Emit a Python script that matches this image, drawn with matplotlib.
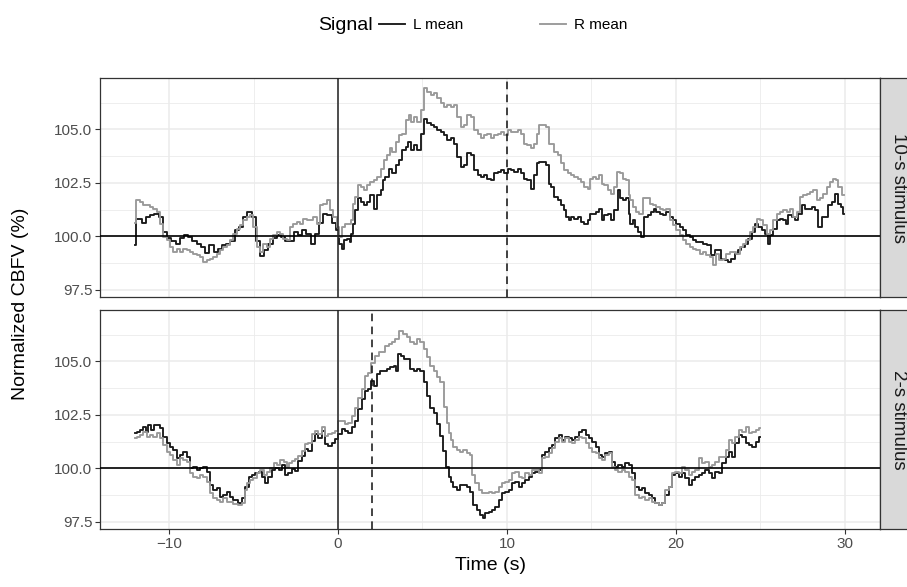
import matplotlib
matplotlib.use("Agg")
import matplotlib.pyplot as plt
from matplotlib.lines import Line2D

plt.rcParams['font.family'] = ['Liberation Sans', 'DejaVu Sans']

# ---------------- data: (time s, normalized CBFV %) ----------------
top_L = [(-12.0, 99.6), (-11.9, 100.8), (-11.75, 100.83), (-11.5, 100.6), (-11.25, 100.9), (-11.0, 101.0),
         (-10.75, 101.05), (-10.5, 100.9), (-10.25, 100.2), (-10.0, 99.9), (-9.75, 99.8), (-9.5, 99.65),
         (-9.25, 99.9), (-9.0, 100.05), (-8.75, 99.97), (-8.5, 99.8), (-8.25, 99.65), (-8.0, 99.5),
         (-7.75, 99.2), (-7.5, 99.6), (-7.25, 99.25), (-7.0, 99.4), (-6.75, 99.6), (-6.5, 99.65),
         (-6.25, 99.8), (-6.0, 100.3), (-5.75, 100.45), (-5.5, 100.9), (-5.25, 101.15), (-5.0, 100.9),
         (-4.75, 99.8), (-4.5, 99.1), (-4.25, 99.35), (-4.0, 99.65), (-3.75, 99.9), (-3.5, 100.05),
         (-3.25, 99.97), (-3.0, 99.8), (-2.75, 99.8), (-2.5, 100.2), (-2.25, 100.05), (-2.0, 100.3),
         (-1.75, 100.1), (-1.5, 99.65), (-1.25, 100.1), (-1.0, 100.6), (-0.75, 101.05), (-0.5, 101.0),
         (-0.25, 100.6), (0.0, 100.3), (0.14, 99.66), (0.28, 99.42), (0.44, 99.81), (0.63, 99.89),
         (0.73, 99.73), (0.83, 100.13), (0.93, 100.59), (1.13, 101.22), (1.23, 101.77), (1.43, 101.61),
         (1.62, 101.45), (1.82, 101.61), (2.02, 101.92), (2.22, 101.3), (2.42, 101.92), (2.61, 102.16),
         (2.71, 102.63), (2.91, 102.78), (3.11, 103.17), (3.31, 102.94), (3.5, 103.33), (3.7, 103.56),
         (3.9, 104.03), (4.1, 104.19), (4.2, 104.42), (4.4, 104.03), (4.6, 104.27), (4.8, 104.03),
         (4.99, 104.81), (5.15, 105.47), (5.39, 105.28), (5.58, 105.2), (5.78, 105.13), (5.98, 104.97),
         (6.18, 104.89), (6.38, 104.73), (6.57, 104.5), (6.77, 104.58), (6.97, 104.34), (7.17, 103.72),
         (7.37, 103.25), (7.56, 103.33), (7.76, 103.88), (7.96, 103.8), (8.16, 103.09), (8.36, 102.86),
         (8.55, 102.78), (8.75, 102.86), (8.95, 102.7), (9.15, 102.63), (9.35, 102.94), (9.54, 103.02),
         (9.74, 103.09), (9.94, 102.94), (10.14, 103.17), (10.33, 103.09), (10.53, 103.02), (10.73, 103.17),
         (10.93, 102.94), (11.12, 102.7), (11.32, 102.63), (11.52, 102.23), (11.72, 102.86), (11.85, 103.41),
         (12.01, 103.48), (12.21, 103.48), (12.41, 103.33), (12.55, 102.47), (12.71, 102.31), (12.9, 101.84),
         (13.1, 101.69), (13.3, 101.45), (13.45, 101.22), (13.6, 100.91), (13.7, 100.75), (13.89, 100.91),
         (14.09, 100.83), (14.29, 100.91), (14.49, 100.67), (14.69, 100.59), (14.88, 100.75), (14.98, 101.06),
         (15.18, 101.06), (15.38, 101.14), (15.58, 101.3), (15.68, 100.75), (15.87, 100.98), (16.07, 101.06),
         (16.27, 100.75), (16.47, 101.22), (16.67, 102.16), (16.77, 101.77), (16.96, 101.69), (17.16, 101.77),
         (17.26, 101.06), (17.36, 100.59), (17.56, 100.75), (17.66, 100.44), (17.85, 100.2), (18.05, 99.97),
         (18.25, 100.91), (18.45, 100.98), (18.65, 101.14), (18.75, 101.3), (18.94, 101.14), (19.14, 101.06),
         (19.34, 100.98), (19.54, 101.14), (19.74, 100.91), (19.93, 100.75), (20.13, 100.59), (20.33, 100.44),
         (20.53, 100.28), (20.73, 100.05), (20.92, 99.97), (21.12, 99.81), (21.32, 99.73), (21.52, 99.73),
         (21.72, 99.66), (22.01, 99.58), (22.21, 99.11), (22.41, 99.34), (22.61, 99.34), (22.81, 98.95),
         (23.0, 98.88), (23.2, 98.8), (23.4, 98.95), (23.6, 99.19), (23.8, 99.34), (23.99, 99.5),
         (24.19, 99.66), (24.39, 99.89), (24.59, 100.2), (24.79, 100.59), (24.99, 100.44), (25.18, 100.28),
         (25.38, 100.13), (25.5, 99.66), (25.68, 100.05), (25.88, 100.36), (26.07, 100.75), (26.27, 100.83),
         (26.47, 100.75), (26.57, 100.59), (26.77, 100.98), (26.96, 100.91), (27.16, 100.75), (27.36, 101.06),
         (27.56, 101.45), (27.76, 101.3), (27.96, 101.3), (28.15, 101.38), (28.35, 101.22), (28.55, 100.44),
         (28.75, 100.91), (28.94, 100.91), (29.14, 101.45), (29.34, 101.61), (29.54, 102.0), (29.74, 101.53),
         (29.84, 101.38), (29.97, 101.06)]

top_R = [(-12.0, 100.6), (-11.95, 101.69), (-11.84, 101.69), (-11.64, 101.61), (-11.44, 101.45), (-11.25, 101.45),
         (-11.05, 101.38), (-10.85, 101.3), (-10.65, 101.14), (-10.45, 100.59), (-10.26, 99.97), (-10.06, 99.81),
         (-9.86, 99.5), (-9.66, 99.27), (-9.47, 99.42), (-9.27, 99.27), (-9.07, 99.42), (-8.87, 99.34),
         (-8.68, 99.27), (-8.48, 99.19), (-8.28, 99.11), (-8.08, 99.03), (-7.89, 98.8), (-7.69, 98.88),
         (-7.49, 98.95), (-7.29, 99.03), (-7.09, 99.19), (-6.9, 99.34), (-6.7, 99.5), (-6.5, 99.58),
         (-6.3, 99.81), (-6.11, 100.13), (-5.91, 100.36), (-5.71, 100.52), (-5.51, 100.75), (-5.32, 100.91),
         (-5.12, 100.98), (-4.92, 100.44), (-4.72, 99.5), (-4.53, 99.27), (-4.33, 99.66), (-4.13, 99.5),
         (-3.93, 99.89), (-3.74, 100.05), (-3.54, 100.2), (-3.34, 100.13), (-3.14, 99.89), (-2.94, 99.81),
         (-2.75, 100.44), (-2.55, 100.59), (-2.35, 100.67), (-2.15, 100.59), (-1.96, 100.83), (-1.76, 100.75),
         (-1.56, 100.75), (-1.36, 100.91), (-1.17, 100.59), (-0.97, 101.45), (-0.77, 101.53), (-0.57, 101.69),
         (-0.38, 101.22), (-0.18, 100.91), (0.0, 100.44), (0.14, 99.97), (0.34, 100.44), (0.53, 100.59),
         (0.73, 100.59), (0.83, 100.75), (0.93, 101.53), (1.13, 101.84), (1.27, 102.39), (1.43, 102.31),
         (1.62, 102.16), (1.82, 102.39), (2.02, 102.55), (2.22, 102.63), (2.42, 102.78), (2.61, 103.17),
         (2.81, 103.56), (3.01, 103.8), (3.11, 104.11), (3.31, 103.95), (3.5, 104.42), (3.7, 104.73),
         (3.9, 104.81), (4.1, 105.44), (4.3, 105.67), (4.4, 105.36), (4.6, 105.59), (4.8, 105.36),
         (4.99, 105.91), (5.15, 106.92), (5.39, 106.77), (5.58, 106.61), (5.78, 106.69), (5.98, 106.45),
         (6.18, 106.22), (6.38, 106.06), (6.57, 106.14), (6.77, 106.06), (6.97, 106.14), (7.17, 105.59),
         (7.37, 105.13), (7.56, 105.2), (7.76, 105.67), (7.96, 105.59), (8.16, 104.97), (8.36, 104.81),
         (8.55, 104.58), (8.75, 104.73), (8.95, 104.81), (9.15, 104.58), (9.35, 104.73), (9.54, 104.81),
         (9.74, 104.89), (9.94, 104.73), (10.14, 104.97), (10.33, 104.89), (10.53, 104.89), (10.73, 104.97),
         (10.93, 104.81), (11.12, 104.34), (11.32, 104.27), (11.52, 104.11), (11.72, 104.34), (11.85, 104.81),
         (12.01, 105.2), (12.21, 105.2), (12.41, 105.13), (12.55, 104.34), (12.71, 104.34), (12.9, 103.95),
         (13.1, 103.8), (13.3, 103.41), (13.5, 103.09), (13.7, 102.94), (13.89, 102.86), (14.09, 102.78),
         (14.29, 102.7), (14.49, 102.55), (14.69, 102.31), (14.88, 102.23), (14.98, 102.7), (15.18, 102.78),
         (15.38, 102.7), (15.58, 102.86), (15.68, 102.47), (15.87, 102.39), (16.07, 102.16), (16.27, 102.0),
         (16.47, 102.31), (16.63, 103.02), (16.77, 102.94), (16.96, 102.7), (17.16, 102.63), (17.26, 101.92),
         (17.36, 101.69), (17.56, 101.38), (17.76, 101.14), (17.95, 101.06), (18.15, 101.77), (18.35, 101.77),
         (18.55, 101.53), (18.75, 101.45), (18.94, 101.38), (19.14, 101.3), (19.34, 101.22), (19.54, 101.3),
         (19.74, 100.75), (19.93, 100.52), (20.13, 100.28), (20.33, 100.05), (20.53, 99.81), (20.73, 99.66),
         (20.92, 99.5), (21.12, 99.42), (21.32, 99.34), (21.52, 99.19), (21.72, 99.27), (21.91, 99.11),
         (22.11, 99.03), (22.31, 98.64), (22.41, 99.19), (22.71, 98.88), (22.9, 98.95), (23.1, 99.19),
         (23.3, 99.27), (23.5, 99.27), (23.7, 99.19), (23.9, 99.5), (24.09, 99.66), (24.29, 99.81),
         (24.49, 100.2), (24.69, 100.44), (24.89, 100.83), (25.08, 100.75), (25.28, 100.52), (25.48, 100.13),
         (25.68, 100.28), (25.88, 100.75), (26.07, 101.06), (26.27, 101.14), (26.47, 101.22), (26.67, 101.14),
         (26.87, 101.3), (27.06, 100.91), (27.26, 101.14), (27.46, 101.84), (27.66, 101.92), (27.86, 102.0),
         (28.05, 102.08), (28.25, 102.16), (28.45, 101.69), (28.65, 101.77), (28.85, 102.0), (29.04, 102.31),
         (29.24, 102.55), (29.44, 102.7), (29.54, 102.63), (29.74, 102.31), (29.97, 101.92)]

bot_L = [(-12.0, 101.64), (-11.84, 101.72), (-11.64, 101.8), (-11.44, 101.95), (-11.34, 101.72), (-11.15, 102.03),
         (-10.95, 101.8), (-10.85, 102.03), (-10.65, 102.03), (-10.46, 101.88), (-10.26, 101.48), (-10.06, 101.17),
         (-9.86, 101.02), (-9.66, 100.86), (-9.47, 100.47), (-9.27, 100.63), (-9.07, 100.78), (-8.87, 100.55),
         (-8.67, 100.0), (-8.48, 100.08), (-8.28, 99.92), (-8.08, 100.0), (-7.88, 100.08), (-7.68, 99.84),
         (-7.49, 99.22), (-7.29, 98.98), (-7.09, 99.06), (-6.89, 98.67), (-6.69, 98.75), (-6.5, 98.91),
         (-6.3, 98.67), (-6.1, 98.52), (-5.8, 98.36), (-5.6, 98.59), (-5.4, 99.14), (-5.2, 99.61),
         (-5.0, 99.69), (-4.81, 99.77), (-4.61, 99.84), (-4.42, 99.61), (-4.22, 99.3), (-4.02, 99.61),
         (-3.82, 99.92), (-3.62, 100.0), (-3.43, 99.92), (-3.23, 100.16), (-3.03, 99.69), (-2.85, 99.8),
         (-2.65, 99.95), (-2.46, 99.88), (-2.26, 100.34), (-2.06, 100.58), (-1.86, 100.89), (-1.66, 100.81),
         (-1.47, 101.28), (-1.27, 101.59), (-1.07, 101.44), (-0.87, 101.75), (-0.67, 101.13), (-0.48, 101.05),
         (-0.28, 101.2), (-0.08, 101.36), (0.12, 101.59), (0.32, 101.83), (0.51, 101.75), (0.71, 101.67),
         (0.91, 101.91), (1.11, 102.22), (1.31, 102.77), (1.5, 103.23), (1.7, 103.63), (1.9, 103.7),
         (2.06, 104.09), (2.2, 103.86), (2.4, 104.41), (2.59, 104.56), (2.79, 104.56), (2.99, 104.64),
         (3.19, 104.72), (3.39, 104.8), (3.49, 104.56), (3.64, 105.34), (3.78, 105.27), (3.98, 105.11),
         (4.18, 105.11), (4.38, 104.64), (4.57, 104.56), (4.77, 104.64), (4.97, 104.56), (5.17, 104.02),
         (5.37, 103.39), (5.56, 102.84), (5.76, 102.61), (5.96, 102.06), (6.16, 101.52), (6.3, 100.8),
         (6.5, 100.08), (6.64, 99.61), (6.74, 99.38), (6.93, 99.14), (7.13, 98.98), (7.33, 99.22),
         (7.53, 99.22), (7.73, 99.14), (7.92, 98.91), (8.12, 98.28), (8.32, 98.05), (8.52, 97.81),
         (8.62, 97.66), (8.82, 97.89), (9.01, 97.97), (9.21, 98.05), (9.41, 98.2), (9.61, 98.52),
         (9.81, 98.83), (10.0, 98.91), (10.2, 98.98), (10.4, 99.3), (10.6, 99.38), (10.8, 99.14),
         (11.0, 99.3), (11.19, 99.45), (11.39, 99.61), (11.59, 99.77), (11.79, 99.84), (11.98, 99.92),
         (12.18, 100.63), (12.38, 100.78), (12.58, 100.94), (12.78, 101.09), (12.97, 101.41), (13.17, 101.56),
         (13.37, 101.33), (13.57, 101.48), (13.77, 101.41), (13.96, 101.33), (14.16, 101.48), (14.36, 101.72),
         (14.56, 101.8), (14.76, 101.56), (14.95, 101.41), (15.15, 101.25), (15.35, 101.02), (15.55, 100.63),
         (15.75, 100.55), (15.92, 100.7), (16.12, 100.78), (16.31, 100.31), (16.51, 100.08), (16.71, 100.16),
         (16.91, 100.08), (17.11, 100.23), (17.3, 100.16), (17.5, 99.77), (17.7, 99.14), (17.9, 98.98),
         (18.1, 99.06), (18.29, 98.83), (18.49, 98.75), (18.69, 98.59), (18.89, 98.36), (19.09, 98.28),
         (19.28, 98.36), (19.48, 98.75), (19.68, 99.14), (19.88, 99.69), (20.08, 99.77), (20.27, 99.61),
         (20.47, 99.77), (20.67, 99.53), (20.87, 99.22), (21.07, 99.45), (21.27, 99.61), (21.46, 99.69),
         (21.66, 99.77), (21.86, 99.92), (22.06, 99.77), (22.25, 99.53), (22.45, 99.84), (22.65, 99.77),
         (22.85, 100.23), (23.05, 100.55), (23.25, 100.78), (23.44, 100.55), (23.64, 101.17), (23.84, 101.56),
         (24.04, 101.48), (24.24, 101.17), (24.43, 101.09), (24.63, 101.02), (24.83, 101.25), (24.99, 101.48)]

bot_R = [(-12.0, 101.41), (-11.84, 101.48), (-11.64, 101.56), (-11.44, 101.72), (-11.25, 101.48), (-11.05, 101.56),
         (-10.85, 101.48), (-10.65, 101.64), (-10.46, 101.41), (-10.26, 101.09), (-10.06, 100.78), (-9.86, 100.63),
         (-9.66, 100.39), (-9.47, 100.16), (-9.27, 100.47), (-9.07, 100.39), (-8.87, 100.31), (-8.67, 99.77),
         (-8.48, 99.61), (-8.28, 99.53), (-8.08, 99.69), (-7.88, 99.61), (-7.68, 99.38), (-7.49, 98.83),
         (-7.29, 98.59), (-7.09, 98.52), (-6.89, 98.44), (-6.69, 98.59), (-6.5, 98.44), (-6.3, 98.44),
         (-6.1, 98.31), (-5.8, 98.28), (-5.6, 98.36), (-5.47, 98.98), (-5.31, 99.3), (-5.11, 99.45),
         (-4.91, 99.53), (-4.71, 99.77), (-4.51, 99.92), (-4.32, 99.69), (-4.12, 99.84), (-3.92, 100.0),
         (-3.72, 100.23), (-3.52, 100.16), (-3.33, 100.39), (-3.13, 100.31), (-2.93, 100.08), (-2.85, 100.27),
         (-2.65, 100.34), (-2.46, 100.42), (-2.26, 100.58), (-2.06, 100.81), (-1.86, 101.13), (-1.66, 101.2),
         (-1.47, 101.59), (-1.27, 101.75), (-1.07, 101.59), (-0.87, 101.91), (-0.67, 101.52), (-0.48, 101.59),
         (-0.28, 101.67), (-0.08, 101.75), (0.12, 102.22), (0.32, 102.22), (0.51, 102.06), (0.71, 102.14),
         (0.91, 102.45), (1.11, 102.84), (1.31, 103.31), (1.5, 103.7), (1.7, 104.33), (1.9, 104.48),
         (2.06, 104.95), (2.3, 105.27), (2.5, 105.42), (2.69, 105.42), (2.89, 105.73), (3.09, 105.81),
         (3.29, 105.89), (3.49, 106.05), (3.74, 106.44), (3.98, 106.28), (4.18, 106.13), (4.38, 105.89),
         (4.57, 105.81), (4.77, 106.05), (4.97, 105.89), (5.17, 105.58), (5.37, 105.19), (5.56, 104.8),
         (5.76, 104.56), (5.96, 104.25), (6.16, 104.02), (6.36, 102.86), (6.54, 102.11), (6.64, 101.64),
         (6.74, 101.33), (6.93, 101.02), (7.13, 100.86), (7.33, 100.78), (7.53, 100.86), (7.73, 100.7),
         (7.88, 100.63), (8.02, 99.69), (8.22, 99.3), (8.42, 98.98), (8.62, 98.83), (8.82, 98.83),
         (9.01, 98.91), (9.21, 98.83), (9.41, 98.91), (9.61, 99.14), (9.81, 99.3), (10.0, 99.38),
         (10.2, 99.45), (10.4, 99.77), (10.6, 99.84), (10.8, 99.61), (11.0, 99.53), (11.19, 99.77),
         (11.39, 99.69), (11.59, 99.92), (11.79, 99.92), (11.98, 99.77), (12.18, 100.47), (12.38, 100.55),
         (12.58, 100.7), (12.78, 100.94), (12.97, 101.25), (13.17, 101.41), (13.37, 101.25), (13.57, 101.41),
         (13.77, 101.25), (13.96, 101.17), (14.16, 101.33), (14.36, 101.48), (14.56, 101.41), (14.76, 101.17),
         (14.95, 100.94), (15.15, 100.78), (15.35, 100.7), (15.55, 100.47), (15.75, 100.39), (15.92, 100.63),
         (16.12, 100.7), (16.31, 100.08), (16.51, 99.92), (16.71, 99.84), (16.91, 99.92), (17.11, 99.84),
         (17.3, 99.61), (17.5, 99.45), (17.7, 98.75), (17.9, 98.59), (18.1, 98.67), (18.29, 98.52),
         (18.49, 98.59), (18.69, 98.44), (18.89, 98.36), (19.09, 98.28), (19.28, 98.36), (19.48, 98.98),
         (19.68, 99.14), (19.88, 99.77), (20.08, 99.84), (20.27, 99.77), (20.47, 100.08), (20.67, 99.92),
         (20.87, 99.69), (21.07, 99.84), (21.27, 99.92), (21.46, 100.47), (21.66, 100.23), (21.86, 100.31),
         (22.06, 100.08), (22.25, 100.16), (22.45, 100.31), (22.65, 100.55), (22.85, 100.55), (23.05, 100.86),
         (23.25, 101.33), (23.44, 101.17), (23.64, 101.48), (23.84, 101.8), (24.04, 101.72), (24.24, 101.95),
         (24.43, 101.64), (24.63, 101.72), (24.83, 101.8), (24.99, 101.88)]

facets = ["10-s stimulus", "2-s stimulus"]
stim_end = [10, 2]
series_labels = ["L mean", "R mean"]
series_colors = ["#1a1a1a", "#999999"]
x_ticks = [-10, 0, 10, 20, 30]
x_tick_labels = ["\u221210", "0", "10", "20", "30"]
y_ticks = [97.5, 100.0, 102.5, 105.0]
y_tick_labels = ["97.5", "100.0", "102.5", "105.0"]

# ---------------- layout ----------------
W, H = 907, 587
fig = plt.figure(figsize=(W / 100, H / 100), dpi=100)


def rect(l, t, r, b):
    return [l / W, 1 - b / H, (r - l) / W, (b - t) / H]


panel_px = [(78.4, 297.2), (310.4, 529.2)]
data = [(top_L, top_R), (bot_L, bot_R)]
for i, (t, b) in enumerate(panel_px):
    ax = fig.add_axes(rect(100, t, 880, b))
    ax.set_facecolor("white")
    ax.set_xlim(-14.1, 32.1)
    ax.set_ylim(97.15, 107.39)
    ax.set_xticks(x_ticks)
    ax.set_xticks([-5, 5, 15, 25], minor=True)
    ax.set_yticks(y_ticks)
    ax.set_yticks([98.75, 101.25, 103.75, 106.25], minor=True)
    ax.set_yticklabels(y_tick_labels)
    ax.grid(which="major", color="#ebebeb", lw=1.1)
    ax.grid(which="minor", color="#ebebeb", lw=0.6)
    ax.set_axisbelow(True)
    for s in ax.spines.values():
        s.set_color("#333333")
        s.set_linewidth(0.9)
    ax.tick_params(axis="both", which="major", direction="out", length=3.5, width=0.8,
                   color="#333333", labelcolor="#4d4d4d", labelsize=11, pad=2)
    ax.tick_params(axis="both", which="minor", length=0)
    if i == 0:
        ax.tick_params(axis="x", which="major", length=0, labelbottom=False)
    else:
        ax.set_xticklabels(x_tick_labels)

    for ser, col, lab in zip(data[i], series_colors, series_labels):
        xs = [p[0] for p in ser]
        ys = [p[1] for p in ser]
        ax.plot(xs, ys, color=col, lw=1.35, label=lab, zorder=3, drawstyle="steps-mid")

    ax.axhline(100, color="black", lw=1.2, zorder=4)
    ax.axvline(0, color="#222222", lw=1.1, zorder=4)
    ax.axvline(stim_end[i], color="#111111", lw=1.1, ls=(0, (5, 3.5)), zorder=4)

    # strip (right side, partly cut by the image edge like the original)
    sax = fig.add_axes(rect(880, t, 916, b))
    sax.set_facecolor("#d9d9d9")
    sax.set_xticks([])
    sax.set_yticks([])
    for s in sax.spines.values():
        s.set_color("#333333")
        s.set_linewidth(0.9)
    sax.text(0.5, 0.5, facets[i], rotation=270, ha="center", va="center",
             color="#1a1a1a", fontsize=13.5, transform=sax.transAxes)

# axis titles
fig.text(21 / W, 1 - 304 / H, "Normalized CBFV (%)", rotation=90, ha="center", va="center",
         fontsize=14, color="black")
fig.text(490 / W, 1 - 566 / H, "Time (s)", ha="center", va="center", fontsize=14, color="black")

# legend
fig.text(318 / W, 1 - 25 / H, "Signal", ha="left", va="center", fontsize=14, color="black")
for k, (c, lab) in enumerate(zip(series_colors, series_labels)):
    h = Line2D([], [], color=c, lw=1.35)
    fig.legend([h], [lab], loc="center left", bbox_to_anchor=([379, 540][k] / W, 1 - 25 / H),
               frameon=False, fontsize=11, handlelength=1.7, handletextpad=0.55,
               borderaxespad=0, borderpad=0)

fig.savefig("out.png", dpi=100)
